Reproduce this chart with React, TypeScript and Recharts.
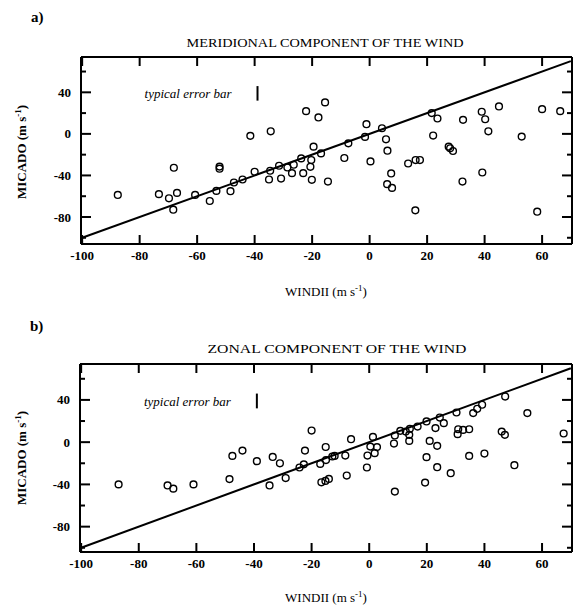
import React from "react";
import { ScatterChart, Scatter, XAxis, YAxis, ErrorBar } from "recharts";

const FONT = '"Liberation Serif", "Times New Roman", serif';

// axis ticks (both panels)
const xTicks = [-100, -80, -60, -40, -20, 0, 20, 40, 60];
const yTicks = [-100, -80, -60, -40, -20, 0, 20, 40, 60];
const yLabelled = [-80, -40, 0, 40];

// a) meridional wind: [WINDII, MICADO] in m/s
const meridionalPoints: [number, number][] = [
  [-87.6, -58.8], [-73.3, -58], [-69.8, -62], [-67, -56.8], [-68.1, -32.6], [-68.3, -73],
  [-60.7, -58.8], [-55.6, -64.6], [-53.3, -54.9], [-52.2, -31.5], [-52.2, -33.5],
  [-48.4, -55.2], [-47.2, -46.8], [-44.2, -43.9], [-41.5, -1.9], [-40, -36.5],
  [-35, -43.9], [-34.6, -35.5], [-34.4, 2.5], [-31.5, -30.7], [-30.8, -43],
  [-28.6, -32.3], [-27, -37.8], [-26.4, -29.7], [-23.8, -23.6], [-23.1, -37.8],
  [-22.1, 21.9], [-20.6, -31.7], [-20.3, -25.2], [-20.1, -44.2], [-19.5, -12.3],
  [-17.8, 15.8], [-16.9, -18.8], [-15.5, 30.3], [-14.5, -45.9], [-8.8, -23.2],
  [-7.4, -9.1], [-1.1, 9.3], [-1.6, -2.9], [0.3, -26.5], [4.3, 5.4], [5.7, -5.2],
  [6.2, -16.2], [7.5, -38.1], [6.1, -48.4], [7.8, -52], [13.4, -28.5], [16, -25.2],
  [17.5, -25.2], [15.9, -73.6], [21.6, 20], [23.6, 14.8], [22.1, -1.6], [27.5, -12.3],
  [28, -13.9], [29, -16.5], [32.5, 13.5], [32.3, -45.9], [39, 21.3], [40.2, 14.1],
  [41.3, 2.5], [39.2, -37.2], [45, 26.4], [52.9, -2.6], [58.3, -74.9], [60, 23.8],
  [66.3, 21.9],
];

// b) zonal wind: [WINDII, MICADO] in m/s
const zonalPoints: [number, number][] = [
  [-87, -40], [-70, -41], [-68, -44], [-61, -40], [-48.5, -35], [-47.5, -13], [-44, -8],
  [-39, -18], [-34.6, -41], [-33.5, -14], [-31, -20], [-29, -34], [-24.2, -24],
  [-22.7, -21], [-22.3, -8], [-20, 11], [-17, -20.6], [-15.1, -4.6], [-15, -17],
  [-12.8, -13.6], [-12, -13], [-16.6, -38], [-15.2, -36.7], [-14, -34.8], [-8.3, -12.7],
  [-6.3, 2.8], [-7.8, -31.6], [1.3, 5], [0.4, -4.2], [2.7, -4.7], [1.9, -10.4],
  [-0.6, -12.7], [-0.8, -24], [8.9, 6.3], [10.8, 10.7], [8.6, -1.3], [12.7, 10],
  [14.1, 12.6], [13.9, 6.9], [13.9, 1.2], [16.8, 14.8], [19.9, 19.6], [8.9, -46.8],
  [23, 13.3], [24.5, 23.3], [25.9, 18], [21, 1.2], [23.6, -3.5], [19.9, -14.2],
  [23.6, -23.7], [19.4, -38.3], [28.3, -29.4], [30.3, 28.1], [30.9, 12.2], [32.6, 11.6],
  [34.7, 12.2], [30.7, 7.6], [34.7, -13], [36.1, 27.5], [37.5, 31.6], [39.2, 35.4],
  [40, -10.8], [46, 10], [47.1, 6.9], [47.2, 43.2], [50.4, -21.8], [54.9, 27.5],
  [67.5, 8.2],
];

// 1:1 line and the "typical error bar" sample
const oneToOne = [{ x: -100, y: -100 }, { x: 70, y: 70 }];
const errorSample = [{ x: -39, y: 39, err: 7 }];

const toXY = (pts: [number, number][]) => pts.map(([x, y]) => ({ x, y }));

const OpenCircle = (p: any) => (
  <circle cx={p.cx} cy={p.cy} r={3.4} fill="none" stroke="#000" strokeWidth={1.4} />
);
const Hidden = () => <g />;
const ErrorNote = (p: any) => (
  <text
    x={p.cx - 26}
    y={p.cy}
    dy="0.35em"
    textAnchor="end"
    fontFamily={FONT}
    fontStyle="italic"
    fontSize={13}
    fill="#000"
  >
    typical error bar
  </text>
);

// inward tick marks, drawn from the axis line into the plot
const tickStroke = { stroke: "#000", strokeWidth: 2 };

const BottomTick = (p: any) => (
  <g>
    <path d={`M${p.x},${p.y}v-9`} {...tickStroke} />
    <text x={p.x} y={p.y + 7} dy="0.71em" textAnchor="middle" fontFamily={FONT}
      fontWeight="bold" fontSize={13} fill="#000">
      {p.payload.value}
    </text>
  </g>
);
const TopTick = (p: any) => (
  <g>
    <path d={`M${p.x},${p.y}v9`} {...tickStroke} />
  </g>
);
const LeftTick = (p: any) => {
  const v = p.payload.value;
  const major = yLabelled.includes(v);
  return (
    <g>
      <path d={`M${p.x},${p.y}h${major ? 10 : 5}`} {...tickStroke} />
      {major && (
        <text x={p.x - 10} y={p.y} dy="0.35em" textAnchor="end" fontFamily={FONT}
          fontWeight="bold" fontSize={13} fill="#000">
          {v}
        </text>
      )}
    </g>
  );
};
const RightTick = (p: any) => {
  const major = yLabelled.includes(p.payload.value);
  return (
    <g>
      <path d={`M${p.x},${p.y}h${major ? -10 : -5}`} {...tickStroke} />
    </g>
  );
};

const frame = { stroke: "#000", strokeWidth: 2 };

function Panel({ points, yDomain, margin }: {
  points: [number, number][];
  yDomain: [number, number];
  margin: { top: number; right: number; bottom: number; left: number };
}) {
  const xDomain: [number, number] = [-100.4, 70.4];
  return (
    <ScatterChart width={575} height={305} margin={margin}>
      <XAxis type="number" dataKey="x" domain={xDomain} allowDataOverflow ticks={xTicks}
        interval={0} height={40} tickSize={0} tickMargin={0} tickLine={false}
        axisLine={frame} tick={BottomTick} />
      <XAxis xAxisId="top" orientation="top" type="number" dataKey="x" domain={xDomain}
        allowDataOverflow ticks={xTicks} interval={0} height={10} tickSize={0} tickMargin={0}
        tickLine={false} axisLine={frame} tick={TopTick} />
      <YAxis type="number" dataKey="y" domain={yDomain} allowDataOverflow ticks={yTicks}
        interval={0} width={45} tickSize={0} tickMargin={0} tickLine={false}
        axisLine={frame} tick={LeftTick} />
      <YAxis yAxisId="right" orientation="right" type="number" dataKey="y" domain={yDomain}
        allowDataOverflow ticks={yTicks} interval={0} width={3} tickSize={0} tickMargin={0}
        tickLine={false} axisLine={frame} tick={RightTick} />
      <Scatter data={oneToOne} shape={Hidden} line={{ stroke: "#000", strokeWidth: 2 }}
        isAnimationActive={false} />
      <Scatter data={toXY(points)} shape={OpenCircle} isAnimationActive={false} />
      <Scatter data={errorSample} shape={ErrorNote} isAnimationActive={false}>
        <ErrorBar dataKey="err" direction="y" width={0} stroke="#000" strokeWidth={2} />
      </Scatter>
    </ScatterChart>
  );
}

const Unit = ({ dy = 5 }: { dy?: number }) => (
  <>
    (m s<tspan dy={-dy} fontSize={9}>-1</tspan>
    <tspan dy={dy}>)</tspan>
  </>
);

export default function App() {
  return (
    <div style={{ position: "absolute", left: 0, top: 0, width: 575, height: 605, background: "#fff" }}>
      <div style={{ position: "absolute", left: 0, top: 0 }}>
        <Panel points={meridionalPoints} yDomain={[-106, 74]}
          margin={{ top: 47, right: 0, bottom: 21, left: 36 }} />
      </div>
      <div style={{ position: "absolute", left: 0, top: 300 }}>
        <Panel points={zonalPoints} yDomain={[-104, 74]}
          margin={{ top: 54, right: 0, bottom: 13, left: 35 }} />
      </div>
      <svg width={575} height={605} style={{ position: "absolute", left: 0, top: 0, pointerEvents: "none" }}
        fontFamily={FONT} fill="#000">
        <text x={31} y={22} fontSize={15} fontWeight="bold">a)</text>
        <text x={325} y={47} fontSize={13} textAnchor="middle" textLength={277}
          lengthAdjust="spacingAndGlyphs">MERIDIONAL COMPONENT OF THE WIND</text>
        <text x={326} y={296} fontSize={13} textAnchor="middle">
          WINDII <Unit />
        </text>
        <text transform="translate(26,152) rotate(-90)" fontSize={13} fontWeight="bold" textAnchor="middle">
          MICADO <Unit />
        </text>

        <text x={30} y={331} fontSize={15} fontWeight="bold">b)</text>
        <text x={337} y={353} fontSize={13} textAnchor="middle" textLength={259}
          lengthAdjust="spacingAndGlyphs">ZONAL COMPONENT OF THE WIND</text>
        <text x={326} y={602} fontSize={13} textAnchor="middle">
          WINDII <Unit />
        </text>
        <text transform="translate(26,458) rotate(-90)" fontSize={13} fontWeight="bold" textAnchor="middle">
          MICADO <Unit />
        </text>
      </svg>
    </div>
  );
}
